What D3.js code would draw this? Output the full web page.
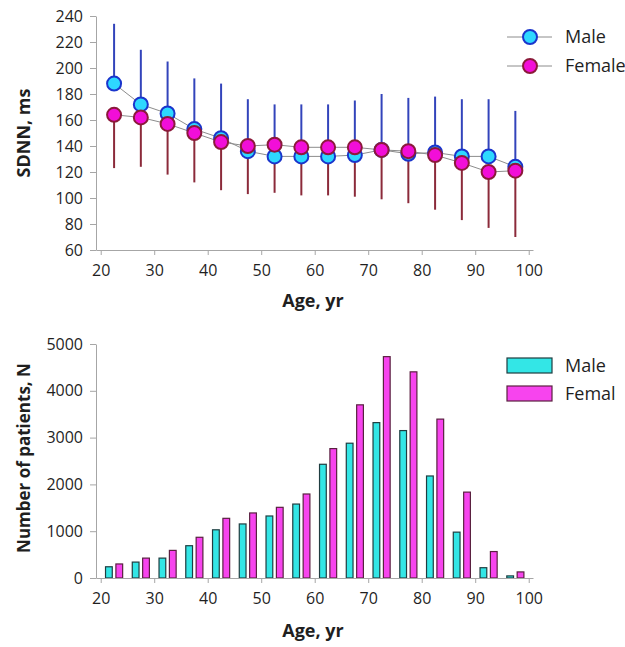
<!DOCTYPE html>
<html>
<head>
<meta charset="utf-8">
<script src="https://cdn.jsdelivr.net/npm/d3@7"></script>
<style>
body { margin: 0; background: #fff; }
svg text { font-family: "Open Sans", sans-serif; fill: #1f1f1f; }
.axis path, .axis line { stroke: #a6a6a6; }
.axis text { font-size: 16px; }
.title { font-size: 18px; font-weight: bold; }
.legend text { font-size: 18px; }
</style>
</head>
<body>
<div id="chart"></div>
<script>
// age group centers, yr
const ages = [22.5, 27.5, 32.5, 37.5, 42.5, 47.5, 52.5, 57.5, 62.5, 67.5, 72.5, 77.5, 82.5, 87.5, 92.5, 97.5];

// SDNN mean and SD, ms
const maleMean = [188, 172, 165, 153, 146, 136, 132, 132, 132, 133, 137, 134, 135, 132, 132, 124];
const maleSD = [46, 42, 40, 39, 42, 40, 40, 40, 40, 42, 43, 43, 43, 44, 44, 43];
const femaleMean = [164, 162, 157, 150, 143, 140, 141, 139, 139, 139, 137, 136, 133, 127, 120, 121];
const femaleSD = [41, 38, 39, 38, 37, 37, 37, 37, 37, 38, 38, 40, 42, 44, 43, 51];

// number of patients
const maleN = [240, 340, 425, 690, 1030, 1155, 1325, 1580, 2430, 2880, 3320, 3150, 2180, 980, 220, 45];
const femaleN = [300, 425, 590, 870, 1275, 1390, 1510, 1795, 2765, 3700, 4730, 4405, 3395, 1835, 565, 130];

const xTicks = [20, 30, 40, 50, 60, 70, 80, 90, 100];
const sdnnTicks = [60, 80, 100, 120, 140, 160, 180, 200, 220, 240];
const countTicks = [0, 1000, 2000, 3000, 4000, 5000];

const svg = d3.select("#chart")
  .append("svg")
  .attr("width", 625)
  .attr("height", 647);

const x = d3.scaleLinear()
  .domain([19.12, 100.8])
  .range([96, 533]);

// ---------- top chart: SDNN ----------
const yTop = d3.scaleLinear()
  .domain([60, 240])
  .range([250, 16]);

svg.append("g")
  .attr("class", "axis")
  .attr("transform", "translate(96,0)")
  .call(d3.axisLeft(yTop).tickValues(sdnnTicks).tickSize(6).tickSizeOuter(0).tickPadding(7));

svg.append("g")
  .attr("class", "axis")
  .attr("transform", "translate(0,250)")
  .call(d3.axisBottom(x).tickValues(xTicks).tickSize(5).tickSizeOuter(0).tickPadding(10));

const topG = svg.append("g");

// error bars
topG.selectAll(".errM")
  .data(ages)
  .enter()
  .append("line")
  .attr("x1", d => x(d))
  .attr("x2", d => x(d))
  .attr("y1", (d, i) => yTop(maleMean[i]))
  .attr("y2", (d, i) => yTop(maleMean[i] + maleSD[i]))
  .attr("stroke", "#3344bb")
  .attr("stroke-width", 2);

topG.selectAll(".errF")
  .data(ages)
  .enter()
  .append("line")
  .attr("x1", d => x(d))
  .attr("x2", d => x(d))
  .attr("y1", (d, i) => yTop(femaleMean[i]))
  .attr("y2", (d, i) => yTop(femaleMean[i] - femaleSD[i]))
  .attr("stroke", "#8b2a3a")
  .attr("stroke-width", 2);

const line = d3.line()
  .x(d => x(d[0]))
  .y(d => yTop(d[1]));

topG.append("path")
  .attr("d", line(ages.map((a, i) => [a, maleMean[i]])))
  .attr("fill", "none")
  .attr("stroke", "#8c8c8c")
  .attr("stroke-width", 1);

topG.append("path")
  .attr("d", line(ages.map((a, i) => [a, femaleMean[i]])))
  .attr("fill", "none")
  .attr("stroke", "#8c8c8c")
  .attr("stroke-width", 1);

topG.selectAll(".dotM")
  .data(ages)
  .enter()
  .append("circle")
  .attr("cx", d => x(d))
  .attr("cy", (d, i) => yTop(maleMean[i]))
  .attr("r", 7)
  .attr("fill", "#2ed8ff")
  .attr("stroke", "#1a35cc")
  .attr("stroke-width", 2);

topG.selectAll(".dotF")
  .data(ages)
  .enter()
  .append("circle")
  .attr("cx", d => x(d))
  .attr("cy", (d, i) => yTop(femaleMean[i]))
  .attr("r", 7)
  .attr("fill", "#f20ed8")
  .attr("stroke", "#8b1a3a")
  .attr("stroke-width", 2);

svg.append("text")
  .attr("class", "title")
  .attr("transform", "translate(30,133) rotate(-90)")
  .attr("text-anchor", "middle")
  .text("SDNN, ms");

svg.append("text")
  .attr("class", "title")
  .attr("x", 313)
  .attr("y", 307)
  .attr("text-anchor", "middle")
  .text("Age, yr");

// legend
const legTop = svg.append("g").attr("class", "legend");
const legItems = [["Male", "#2ed8ff", "#1a35cc", 37], ["Female", "#f20ed8", "#8b1a3a", 66]];
legItems.forEach(d => {
  legTop.append("line")
    .attr("x1", 507).attr("x2", 552)
    .attr("y1", d[3]).attr("y2", d[3])
    .attr("stroke", "#8c8c8c");
  legTop.append("circle")
    .attr("cx", 530).attr("cy", d[3]).attr("r", 7)
    .attr("fill", d[1]).attr("stroke", d[2]).attr("stroke-width", 2);
  legTop.append("text")
    .attr("x", 565).attr("y", d[3])
    .attr("dy", "0.35em")
    .text(d[0]);
});

// ---------- bottom chart: patients ----------
const yBot = d3.scaleLinear()
  .domain([0, 5000])
  .range([578, 344]);

svg.append("g")
  .attr("class", "axis")
  .attr("transform", "translate(96,0)")
  .call(d3.axisLeft(yBot).tickValues(countTicks).tickFormat(d3.format("d")).tickSize(6).tickSizeOuter(0).tickPadding(7));

const sub = d3.scaleBand()
  .domain(["Male", "Female"])
  .range([-1.6, 1.6])
  .paddingInner(0.35);

const bw = x(sub.bandwidth()) - x(0);

const bars = svg.append("g");

bars.selectAll(".barM")
  .data(ages)
  .enter()
  .append("rect")
  .attr("x", d => x(d + sub("Male")))
  .attr("y", (d, i) => yBot(maleN[i]))
  .attr("width", bw)
  .attr("height", (d, i) => yBot(0) - yBot(maleN[i]))
  .attr("fill", "#33e6e6")
  .attr("stroke", "#1f3d40")
  .attr("stroke-width", 1.2);

bars.selectAll(".barF")
  .data(ages)
  .enter()
  .append("rect")
  .attr("x", d => x(d + sub("Female")))
  .attr("y", (d, i) => yBot(femaleN[i]))
  .attr("width", bw)
  .attr("height", (d, i) => yBot(0) - yBot(femaleN[i]))
  .attr("fill", "#f744ee")
  .attr("stroke", "#5a2040")
  .attr("stroke-width", 1.2);

svg.append("g")
  .attr("class", "axis")
  .attr("transform", "translate(0,578)")
  .call(d3.axisBottom(x).tickValues(xTicks).tickSize(5).tickSizeOuter(0).tickPadding(10));

svg.append("text")
  .attr("class", "title")
  .attr("transform", "translate(30,458) rotate(-90)")
  .attr("text-anchor", "middle")
  .style("font-size", "17px")
  .text("Number of patients, N");

svg.append("text")
  .attr("class", "title")
  .attr("x", 313)
  .attr("y", 637)
  .attr("text-anchor", "middle")
  .text("Age, yr");

const legBot = svg.append("g").attr("class", "legend");
const barLeg = [["Male", "#33e6e6", "#1f3d40", 358], ["Femal", "#f744ee", "#5a2040", 386]];
barLeg.forEach(d => {
  legBot.append("rect")
    .attr("x", 507).attr("y", d[3])
    .attr("width", 45).attr("height", 15)
    .attr("fill", d[1]).attr("stroke", d[2]).attr("stroke-width", 1.2);
  legBot.append("text")
    .attr("x", 565).attr("y", d[3] + 7.5)
    .attr("dy", "0.35em")
    .text(d[0]);
});
</script>
</body>
</html>
